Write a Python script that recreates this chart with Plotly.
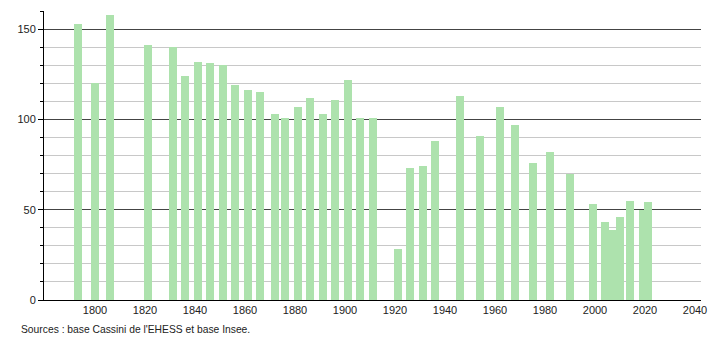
import plotly.graph_objects as go

years = [1793, 1800, 1806, 1821, 1831, 1836, 1841, 1846, 1851, 1856, 1861, 1866,
         1872, 1876, 1881, 1886, 1891, 1896, 1901, 1906, 1911, 1921, 1926, 1931,
         1936, 1946, 1954, 1962, 1968, 1975, 1982, 1990, 1999, 2004, 2007, 2010,
         2014, 2019, 2021]
population = [153, 120, 158, 141, 140, 124, 132, 131, 130, 119, 116, 115,
              103, 101, 107, 112, 103, 111, 122, 101, 101, 28, 73, 74,
              88, 113, 91, 107, 97, 76, 82, 70, 53, 43, 39, 46,
              55, 50, 54]
x_ticks = [1800, 1820, 1840, 1860, 1880, 1900, 1920, 1940, 1960, 1980, 2000, 2020, 2040]
y_ticks = [0, 50, 100, 150]
source_text = "Sources : base Cassini de l'EHESS et base Insee."

fig = go.Figure()
fig.add_trace(go.Bar(
    x=years, y=population, width=3.2,
    marker=dict(color="#ade2ad", line=dict(width=0)),
    hoverinfo="x+y",
))

fig.update_layout(
    width=710, height=340,
    margin=dict(l=44, r=9, t=11, b=40, autoexpand=False),
    paper_bgcolor="white", plot_bgcolor="white",
    showlegend=False,
    font=dict(family="Liberation Sans, Arial, sans-serif", size=11, color="#222"),
    bargap=0,
)
fig.update_xaxes(
    range=[1779.6, 2042.4], automargin=False,
    tickvals=x_ticks, ticktext=[str(v) for v in x_ticks],
    showgrid=False, zeroline=False,
    showline=True, linecolor="black", linewidth=1,
    ticks="", ticklabelstandoff=0,
)
fig.update_yaxes(
    range=[0, 160], automargin=False,
    tickvals=y_ticks, ticktext=[str(v) for v in y_ticks],
    showgrid=True, gridcolor="#444", gridwidth=1,
    zeroline=False,
    showline=True, linecolor="black", linewidth=1,
    ticks="outside", ticklen=5, tickcolor="black",
    minor=dict(dtick=10, tick0=0, showgrid=True, gridcolor="#c8c8c8", gridwidth=1,
               ticks="outside", ticklen=3, tickcolor="black"),
)
fig.add_annotation(
    text=source_text, xref="paper", yref="paper",
    x=(19 - 44) / 657, y=(300 - 329) / 289,
    xanchor="left", yanchor="middle", showarrow=False,
    font=dict(size=10.3, color="#222"),
)

fig.write_html("out.html")
